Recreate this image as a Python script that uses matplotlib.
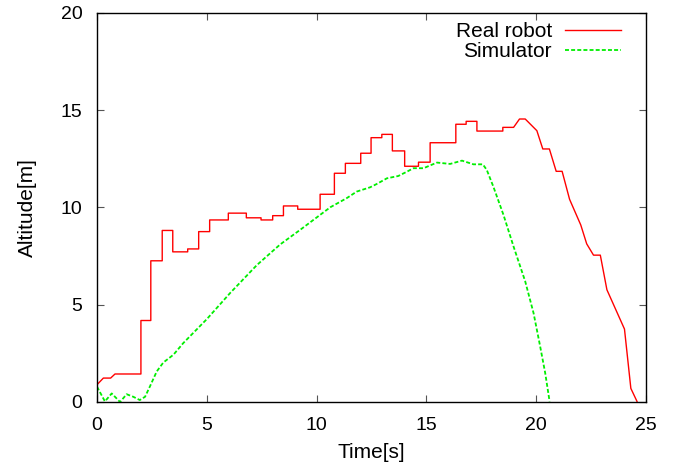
import matplotlib
matplotlib.use("Agg")
import matplotlib.pyplot as plt

# Real robot altitude (vertices of the recorded trace)
real_t = [0.0, 0.29, 0.62, 0.82, 2.0, 2.0, 2.45, 2.45, 2.97, 2.97, 3.45, 3.45,
          4.13, 4.13, 4.63, 4.63, 5.13, 5.13, 5.98, 5.98, 6.80, 6.80, 7.47, 7.47,
          8.0, 8.0, 8.49, 8.49, 9.14, 9.14, 10.16, 10.16, 10.81, 10.81, 11.31, 11.31,
          12.01, 12.01, 12.48, 12.48, 12.97, 12.97, 13.45, 13.45, 14.01, 14.01,
          14.64, 14.64, 15.17, 15.17, 16.34, 16.34, 16.81, 16.81, 17.3, 17.3,
          18.48, 18.48, 18.97, 19.24, 19.5, 20.03, 20.30, 20.6, 20.91, 21.18,
          21.52, 22.03, 22.3, 22.61, 22.92, 23.22, 24.02, 24.31, 24.59]
real_alt = [0.89, 1.23, 1.23, 1.44, 1.44, 4.19, 4.19, 7.26, 7.26, 8.82, 8.82, 7.72,
            7.72, 7.87, 7.87, 8.76, 8.76, 9.36, 9.36, 9.71, 9.71, 9.47, 9.47, 9.36,
            9.36, 9.58, 9.58, 10.08, 10.08, 9.91, 9.91, 10.68, 10.68, 11.76, 11.76, 12.27,
            12.27, 12.79, 12.79, 13.59, 13.59, 13.76, 13.76, 12.91, 12.91, 12.12,
            12.12, 12.33, 12.33, 13.33, 13.33, 14.28, 14.28, 14.43, 14.43, 13.93,
            13.93, 14.12, 14.12, 14.55, 14.55, 13.95, 13.01, 13.01, 11.86, 11.86,
            10.42, 9.1, 8.13, 7.55, 7.55, 5.77, 3.75, 0.70, 0.03]

# Simulator altitude
sim_t = [0.0, 0.36, 0.67, 1.05, 1.35, 1.65, 1.95, 2.19, 2.41, 2.72, 3.02, 3.48,
         3.93, 5.0, 6.06, 7.28, 8.34, 9.25, 10.16, 10.62, 11.37, 11.83, 12.44,
         12.74, 13.2, 13.72, 14.11, 14.41, 14.87, 15.48, 16.08, 16.62, 17.14,
         17.57, 17.75, 18.05, 18.51, 18.97, 19.5, 19.88, 20.18, 20.41, 20.61]
sim_alt = [0.79, 0.03, 0.44, 0.0, 0.4, 0.27, 0.1, 0.27, 0.8, 1.57, 2.03, 2.43,
           3.03, 4.26, 5.6, 7.04, 8.1, 8.85, 9.62, 10.01, 10.48, 10.82, 11.04,
           11.21, 11.5, 11.62, 11.84, 12.02, 12.02, 12.31, 12.24, 12.41, 12.22,
           12.22, 11.93, 11.07, 9.62, 7.99, 6.2, 4.57, 2.86, 1.49, 0.03]

x_ticks = [0, 5, 10, 15, 20, 25]
y_ticks = [0, 5, 10, 15, 20]

plt.rcParams['font.family'] = ['Liberation Sans', 'DejaVu Sans']

fig = plt.figure(figsize=(6.85, 4.69), dpi=100)
ax = fig.add_axes([97/685, 1-402/469, (646-97)/685, (402-13)/469])

ax.plot(real_t, real_alt, color='#ff0000', lw=1.0, label='Real robot')
ax.plot(sim_t, sim_alt, color='#00ee00', lw=1.3, dashes=(2.2, 1.2), label='Simulator')

ax.set_xlim(0, 25)
ax.set_ylim(0, 20)
ax.set_xticks(x_ticks)
ax.set_yticks(y_ticks)
ax.tick_params(direction='in', length=5, width=0.8, color='#555555',
               top=True, right=True, labelsize=14, pad=10.5)
for s in ax.spines.values():
    s.set_linewidth(1.0)

ax.set_xlabel('Time[s]', fontsize=15)
ax.set_ylabel('Altitude[m]', fontsize=15)
ax.xaxis.set_label_coords(0.5, (402-443)/389)
ax.yaxis.set_label_coords((37-97)/549, 0.5)

leg = ax.legend(loc='upper right', bbox_to_anchor=(621/685, 1-22/469),
                bbox_transform=fig.transFigure, frameon=False, markerfirst=False,
                fontsize=15, handlelength=2.7, handletextpad=0.62,
                labelspacing=0.05, borderpad=0, borderaxespad=0)

fig.savefig('out.png', dpi=100)
